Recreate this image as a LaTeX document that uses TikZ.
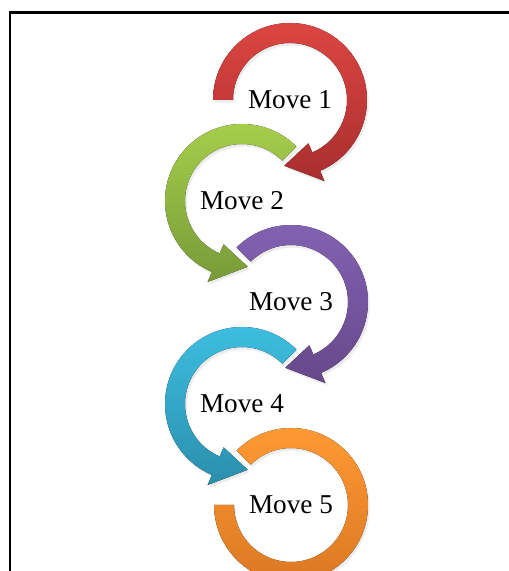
\documentclass[tikz,border=0pt]{standalone}
\usepackage{fontspec}
\setmainfont{Liberation Serif}
\usepackage{tikz}
\usetikzlibrary{shadows}

\definecolor{redtop}{RGB}{220,70,66}
\definecolor{redbot}{RGB}{168,46,46}
\definecolor{greentop}{RGB}{168,208,76}
\definecolor{greenbot}{RGB}{120,154,56}
\definecolor{purpletop}{RGB}{132,98,180}
\definecolor{purplebot}{RGB}{102,72,138}
\definecolor{cyantop}{RGB}{62,192,226}
\definecolor{cyanbot}{RGB}{42,142,172}
\definecolor{orangetop}{RGB}{255,155,52}
\definecolor{orangebot}{RGB}{218,118,34}

\begin{document}
\begin{tikzpicture}[x=0.02cm,y=0.02cm,
  ring/.style={drop shadow={opacity=0.15,shadow xshift=1pt,shadow yshift=-1.5pt}},
  lbl/.style={font=\fontsize{15.5}{18}\selectfont}]
\clip (0,0) rectangle (509,571);
% Frame
\draw[line width=1.4pt] (509,558.5) -- (10,558.5) -- (10,0);
% Ring centres
\coordinate (c1) at (290,471);
\coordinate (c2) at (242,370);
\coordinate (c3) at (291,269);
\coordinate (c4) at (242,167);
\coordinate (c5) at (291,66);
% Move 1 (clockwise)
\begin{scope}[shift={(c1)}]
\fill[ring,top color=redtop,bottom color=redbot] (180:77) arc[start angle=180,end angle=-67,radius=77]
  -- (-67:88) -- (-95:66) -- (-67:47) -- (-67:57) arc[start angle=-67,end angle=180,radius=57] -- cycle;
\end{scope}
% Move 2 (counter-clockwise)
\begin{scope}[shift={(c2)}]
\fill[ring,top color=greentop,bottom color=greenbot] (45:77) arc[start angle=45,end angle=247,radius=77]
  -- (247:88) -- (275:66) -- (247:47) -- (247:57) arc[start angle=247,end angle=45,radius=57] -- cycle;
\end{scope}
% Move 3 (clockwise)
\begin{scope}[shift={(c3)}]
\fill[ring,top color=purpletop,bottom color=purplebot] (135:77) arc[start angle=135,end angle=-67,radius=77]
  -- (-67:88) -- (-95:66) -- (-67:47) -- (-67:57) arc[start angle=-67,end angle=135,radius=57] -- cycle;
\end{scope}
% Move 4 (counter-clockwise)
\begin{scope}[shift={(c4)}]
\fill[ring,top color=cyantop,bottom color=cyanbot] (45:77) arc[start angle=45,end angle=247,radius=77]
  -- (247:88) -- (275:66) -- (247:47) -- (247:57) arc[start angle=247,end angle=45,radius=57] -- cycle;
\end{scope}
% Move 5 (open ring, no head)
\begin{scope}[shift={(c5)}]
\fill[ring,top color=orangetop,bottom color=orangebot] (135:77) arc[start angle=135,end angle=-180,radius=77]
  -- (180:57) arc[start angle=-180,end angle=135,radius=57] -- cycle;
\end{scope}
% Labels
\node[lbl] (m1) at (c1) {Move 1};
\node[lbl] (m2) at (c2) {Move 2};
\node[lbl] (m3) at (c3) {Move 3};
\node[lbl] (m4) at (c4) {Move 4};
\node[lbl] (m5) at (c5) {Move 5};
\end{tikzpicture}
\end{document}
